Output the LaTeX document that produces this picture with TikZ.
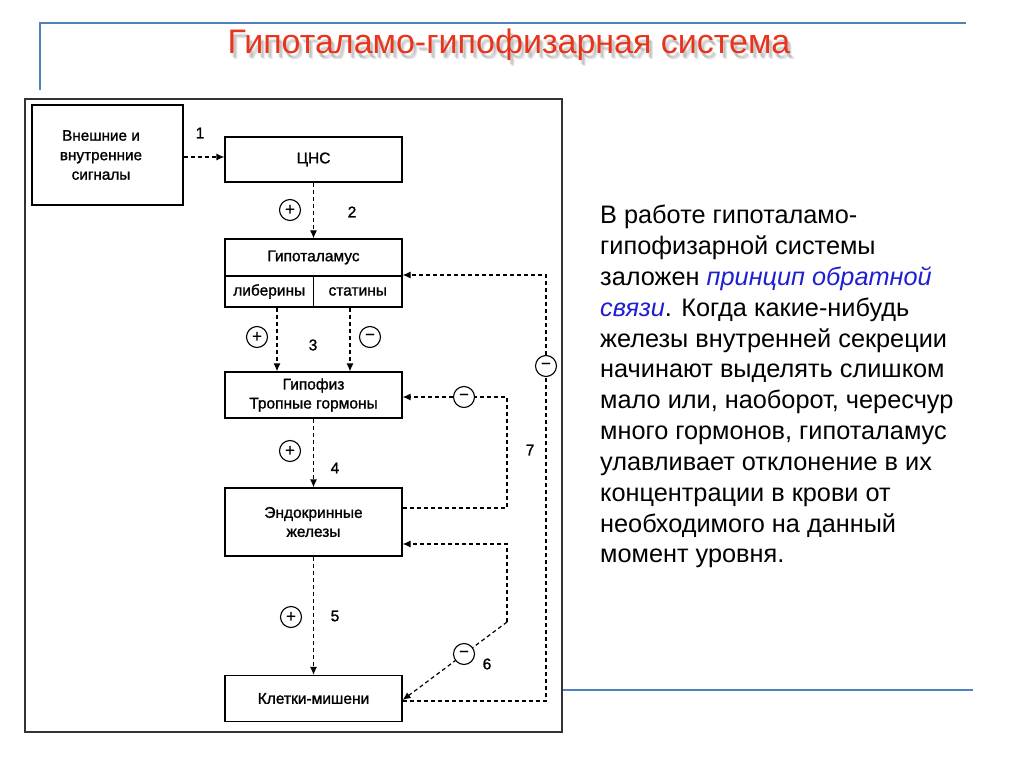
\documentclass[tikz,border=0pt]{standalone}
\usepackage{fontspec}
\setmainfont{Liberation Sans}
\newfontfamily\diagfont[FakeBold=1.2]{Liberation Sans}
\usetikzlibrary{arrows.meta}
\definecolor{titlered}{RGB}{232,52,28}
\definecolor{lineblue}{RGB}{79,129,189}
\definecolor{linkblue}{RGB}{30,30,210}
\begin{document}
\begin{tikzpicture}[x=1pt,y=-1pt,
  box/.style={draw=black,line width=1.2pt,minimum width=177pt,inner sep=0pt,font=\diagfont\fontsize{15.5}{19}\selectfont,align=center},
  dline/.style={draw=black,line width=1.2pt,dash pattern=on 4pt off 3pt},
  arr/.style={dline,-{Latex[length=8pt,width=7pt]}},
  sgn/.style={circle,draw=black,line width=1.1pt,minimum size=21pt,inner sep=0pt,font=\diagfont\fontsize{17}{17}\selectfont},
  num/.style={font=\diagfont\fontsize{15.5}{15.5}\selectfont,inner sep=0pt},
  para/.style={anchor=base west,inner sep=0pt,font=\fontsize{25.3}{30}\selectfont},
  ttl/.style={font=\fontsize{34}{38}\selectfont,inner sep=0pt}]
\useasboundingbox (0,0) rectangle (1024,767);
\fill[white] (0,0) rectangle (1024,767);
% slide decorations
\draw[lineblue,line width=1.5pt] (40,90) -- (40,23) -- (966,23);
\draw[lineblue,line width=1.5pt] (563,690) -- (973,690);
% title with soft shadow
\foreach \dx/\dy in {2/4,3/5,4/6}
  \node[ttl,text=black,opacity=0.09] at (509+\dx,45+\dy) {Гипоталамо-гипофизарная система};
\node (title) [ttl,text=titlered] at (509,45) {Гипоталамо-гипофизарная система};
% picture frame
\draw[black!80,line width=1.6pt] (25,99) rectangle (562,732);
% boxes
\node (ext) [box,minimum width=151pt,minimum height=100pt] at (107.5,155) {};
\node (exttxt) [font=\diagfont\fontsize{15.3}{19.5}\selectfont,align=center,inner sep=0pt] at (101,155) {Внешние и\\внутренние\\сигналы};
\node (cns) [box,minimum height=45pt] at (313.5,159.5) {ЦНС};
\node (hyp) [box,minimum height=37pt] at (313.5,257.5) {Гипоталамус};
\node (lib) [box,minimum width=88.5pt,minimum height=31pt] at (269.25,291.5) {либерины};
\node (stat) [box,minimum width=88.5pt,minimum height=31pt] at (357.75,291.5) {статины};
\node (pit) [box,minimum height=46pt] at (313.5,395) {Гипофиз\\Тропные гормоны};
\node (endo) [box,minimum height=68pt] at (313.5,522) {Эндокринные\\железы};
\node (cells) [box,minimum height=46pt] at (313.5,698.5) {Клетки-мишени};
% main arrows
\draw[arr] (ext.east |- 0,157) -- (cns.west |- 0,157);
\node (n1) [num] at (200,133) {1};
\draw[arr] (cns.south) -- (hyp.north);
\node (p2) [sgn] at (290,210) {+};
\node (n2) [num] at (352,212) {2};
\draw[arr] (lib.south -| 277,0) -- (pit.north -| 277,0);
\draw[arr] (stat.south -| 350,0) -- (pit.north -| 350,0);
\node (p3) [sgn] at (257,337) {+};
\node (m3) [sgn] at (370,337) {−};
\node (n3) [num] at (313,345) {3};
\draw[arr] (pit.south) -- (endo.north);
\node (p4) [sgn] at (290,451) {+};
\node (n4) [num] at (335,468) {4};
\draw[arr] (endo.south) -- (cells.north);
\node (p5) [sgn] at (291,617) {+};
\node (n5) [num] at (335,616) {5};
% feedback loops
\coordinate (a1) at (507,508);
\coordinate (a2) at (507,397);
\node (m7) [sgn] at (464,397) {−};
\draw[dline] (endo.east |- a1) -- (a1) -- (a2) -- (m7.east);
\draw[arr] (m7.west) -- (pit.east |- a2);
\node (n7) [num] at (530,450) {7};
\coordinate (b1) at (507,622);
\coordinate (b2) at (507,544);
\draw[arr] (b1) -- (b2) -- (endo.east |- b2);
\draw[arr] (b1) -- (cells.east |- 0,700);
\node (m6) [sgn,fill=white] at (464,654) {−};
\node (n6) [num] at (487,664) {6};
\coordinate (c1) at (546,701);
\coordinate (c2) at (546,275);
\node (m8) [sgn] at (546,366) {−};
\draw[dline] (cells.east |- c1) -- (c1) -- (m8.south);
\draw[arr] (m8.north) -- (c2) -- (hyp.east |- c2);
% text
\node (t1) [para] at (600,223) {В работе гипоталамо-};
\node (t2) [para] at (600,254) {гипофизарной системы};
\node (t3) [para] at (600,285) {заложен \textcolor{linkblue}{\itshape принцип обратной}};
\node (t4) [para] at (600,316) {\textcolor{linkblue}{\itshape связи}. Когда какие-нибудь};
\node (t5) [para] at (600,347) {железы внутренней секреции};
\node (t6) [para] at (600,377) {начинают выделять слишком};
\node (t7) [para] at (600,408) {мало или, наоборот, чересчур};
\node (t8) [para] at (600,439) {много гормонов, гипоталамус};
\node (t9) [para] at (600,470) {улавливает отклонение в их};
\node (t10) [para] at (600,501) {концентрации в крови от};
\node (t11) [para] at (600,532) {необходимого на данный};
\node (t12) [para] at (600,562) {момент уровня.};
\end{tikzpicture}
\end{document}
